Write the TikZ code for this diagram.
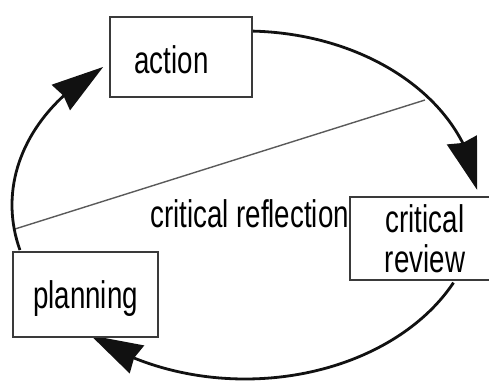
\documentclass[tikz,border=0pt]{standalone}
\usepackage{fontspec}
\setmainfont{Liberation Sans}[FakeStretch=0.72]
\usetikzlibrary{arrows.meta,bending,calc}
\definecolor{boxgray}{HTML}{3A3A3A}
\definecolor{chordgray}{HTML}{5A5A5A}
\definecolor{cycblack}{HTML}{111111}
\begin{document}
\begin{tikzpicture}[x=1pt,y=-1pt,
  box/.style={draw=boxgray, line width=1.3pt, fill=white, inner sep=0pt,
    font=\fontsize{38.5}{40}\selectfont},
  lbl/.style={inner sep=0pt, font=\fontsize{38.5}{40}\selectfont},
  cyc/.style={draw=cycblack, line width=2.8pt,
    -{Stealth[length=52pt,width=31pt,inset=3pt]}},
  chord/.style={draw=chordgray, line width=1.4pt}]
\useasboundingbox (0,0) rectangle (489,380);
\coordinate (o) at (245,205);
\coordinate (s1) at ($(o)+(88:233pt and 174pt)$);
\coordinate (s2) at ($(o)+(-26.5:233pt and 174pt)$);
\coordinate (s3) at ($(o)+(195:233pt and 174pt)$);
\coordinate (d1) at (15,229);
\coordinate (d2) at (425,100);
% chord
\draw[chord] (d1) -- (d2);
% cycle arcs
\draw[cyc] (s1) arc[start angle=88, end angle=5, x radius=233pt, y radius=174pt];
\draw[cyc] (s2) arc[start angle=-26.5, end angle=-131.5, x radius=233pt, y radius=174pt];
\draw[cyc] (s3) arc[start angle=195, end angle=127.5, x radius=233pt, y radius=174pt];
% boxes
\node[box, minimum width=142pt, minimum height=80pt, text height=32pt, text depth=0pt]
  (action) at (181,57) {action\hspace*{19pt}};
\node[box, minimum width=150pt, minimum height=83pt, align=center]
  (review) at (425,238.5) {critical\\review};
\node[box, minimum width=145pt, minimum height=85pt, text height=27pt, text depth=0pt]
  (planning) at (85.5,294.5) {planning};
\node[lbl, anchor=base west] (refl) at (150,227) {critical reflection};
\end{tikzpicture}
\end{document}
